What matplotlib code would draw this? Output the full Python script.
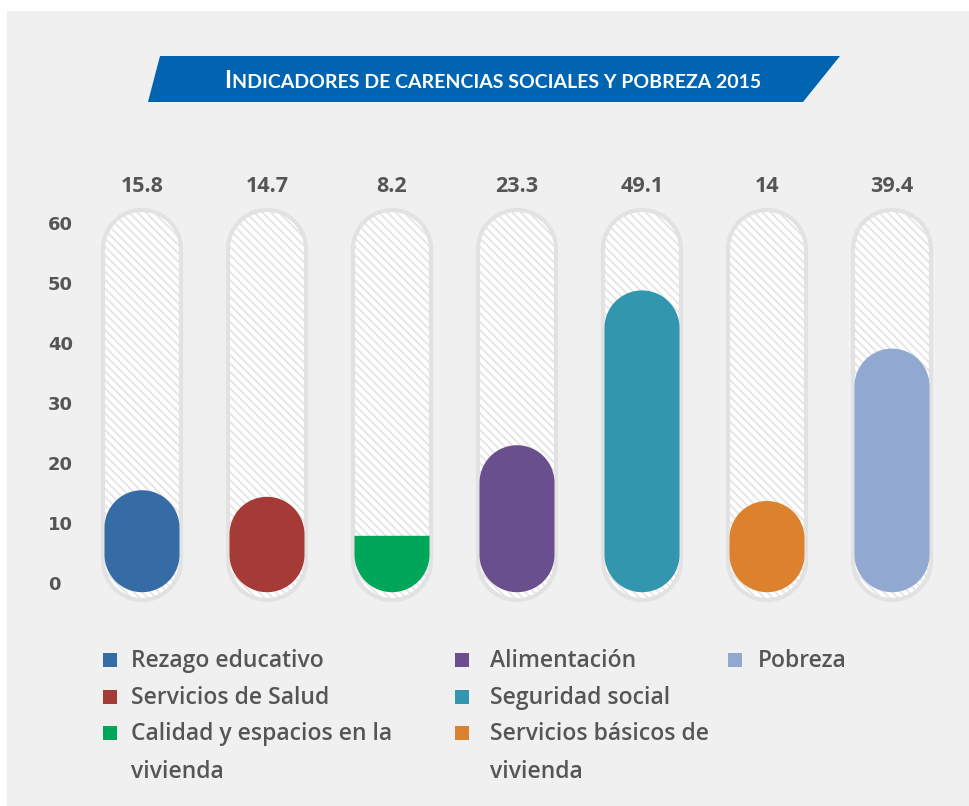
import numpy as np
import matplotlib
matplotlib.use("Agg")
import matplotlib.pyplot as plt
from matplotlib.path import Path
from matplotlib.patches import PathPatch, Rectangle, Polygon
import matplotlib.transforms as mtransforms

# ---------------- data ----------------
categories = ["Rezago educativo", "Servicios de Salud", "Calidad y espacios en la\nvivienda",
              "Alimentación", "Seguridad social", "Servicios básicos de\nvivienda", "Pobreza"]
values = [15.8, 14.7, 8.2, 23.3, 49.1, 14, 39.4]
value_labels = ["15.8", "14.7", "8.2", "23.3", "49.1", "14", "39.4"]
colors = ["#356ca6", "#a63a36", "#00a65a", "#6a4f8e", "#3196ae", "#dc822f", "#91a8d1"]
yticks = [0, 10, 20, 30, 40, 50, 60]
title_first = "I"
title_rest = "NDICADORES DE CARENCIAS SOCIALES Y POBREZA 2015"

TXT = "#555555"
W, H = 970, 806
fig = plt.figure(figsize=(W / 100, H / 100), dpi=100, facecolor="white")
fig.patches.append(Rectangle((7 / W, 0), 1, 1 - 11 / H, transform=fig.transFigure,
                             facecolor="#f0f0f0", edgecolor="none", zorder=-5))

# axes: x pixel 79.5..954.5, y pixel 160..615 (from top)
ax = fig.add_axes([79.5 / W, (H - 615) / H, 875 / W, 455 / H])
ax.set_xlim(-0.5, 6.5)
ax.set_ylim(-5, (585 - 160) / 6)
ax.axis("off")

px_x = 125.0  # pixels per x unit
px_y = 6.0    # pixels per y unit


def capsule(xc, y0, y1, rx, ry, round_top=True):
    t = np.linspace(0, np.pi, 40)
    verts = []
    if round_top:
        cy = y1 - ry
        verts += list(zip(xc + rx * np.cos(t), cy + ry * np.sin(t)))
    else:
        verts += [(xc + rx, y1), (xc - rx, y1)]
    cyb = y0 + ry
    verts += list(zip(xc - rx * np.cos(t), cyb - ry * np.sin(t)))
    verts.append(verts[0])
    codes = [Path.MOVETO] + [Path.LINETO] * (len(verts) - 2) + [Path.CLOSEPOLY]
    return Path(verts, codes)


plt.rcParams["hatch.linewidth"] = 1.3
bg_top, bg_bot = 62.5, -2.5
for i, (v, c, lab) in enumerate(zip(values, colors, value_labels)):
    rxb, ryb = 39 / px_x, 39 / px_y
    p = capsule(i, bg_bot, bg_top, rxb, ryb)
    ax.add_patch(PathPatch(p, facecolor="white", edgecolor="#e5e5e5", lw=0,
                           hatch="\\\\\\\\", zorder=1))
    ax.add_patch(PathPatch(p, facecolor="none", edgecolor="#e2e2e2", lw=3.0, zorder=2))
    rx, ry = 37.5 / px_x, 37.5 / px_y
    bot = -1.2
    full = (v - bot) >= 2 * ry
    ax.add_patch(PathPatch(capsule(i, bot, v, rx, ry, round_top=full),
                           facecolor=c, edgecolor="none", zorder=3))
    ax.text(i, (585 - 186) / 6, lab, ha="center", va="center", fontsize=15.5,
            fontweight="bold", color=TXT, family="Open Sans")

# y tick labels
tr = mtransforms.blended_transform_factory(fig.transFigure, ax.transData)
for t in yticks:
    ax.text(48 / W, t, str(t), transform=tr, ha="left", va="center",
            fontsize=13, fontweight="bold", color=TXT, family="DejaVu Sans")

# banner
fig.patches.append(Polygon([(160 / W, 1 - 56 / H), (840 / W, 1 - 56 / H),
                            (803 / W, 1 - 102 / H), (148 / W, 1 - 102 / H)],
                           closed=True, transform=fig.transFigure,
                           facecolor="#0064b1", edgecolor="none", zorder=1))
t1 = fig.text(0.2, 1 - 88 / H, title_first, ha="left", va="baseline", color="white",
              fontsize=17, fontweight="bold", family="Lato", zorder=2)
t2 = fig.text(0.2, 1 - 88 / H, title_rest, ha="left", va="baseline", color="white",
              fontsize=14, fontweight="bold", family="Lato", zorder=2)
fig.canvas.draw()
r = fig.canvas.get_renderer()
b1 = t1.get_window_extent(r)
b2 = t2.get_window_extent(r)
total = b1.width + 1 + b2.width
x0 = 493 - total / 2
t1.set_x(x0 / W)
t2.set_x((x0 + b1.width + 1) / W)

# legend
col_x = [103, 455, 728]
col_tx = [131, 490, 758]
row_y = [660, 697, 733]
order = [(0, 0), (0, 1), (0, 2), (1, 0), (1, 1), (1, 2), (2, 0)]
for (ci, ri), lab, c in zip(order, categories, colors):
    x = col_x[ci]
    y = row_y[ri]
    fig.patches.append(Rectangle((x / W, 1 - (y + 7) / H), 14 / W, 14 / H,
                                 transform=fig.transFigure, facecolor=c,
                                 edgecolor="none"))
    fig.text(col_tx[ci] / W, 1 - (y - 11) / H, lab, ha="left", va="top",
             fontsize=16.5, fontweight="semibold", color=TXT, family="Open Sans",
             linespacing=1.8)

fig.savefig("out.png", dpi=100, facecolor=fig.get_facecolor())
